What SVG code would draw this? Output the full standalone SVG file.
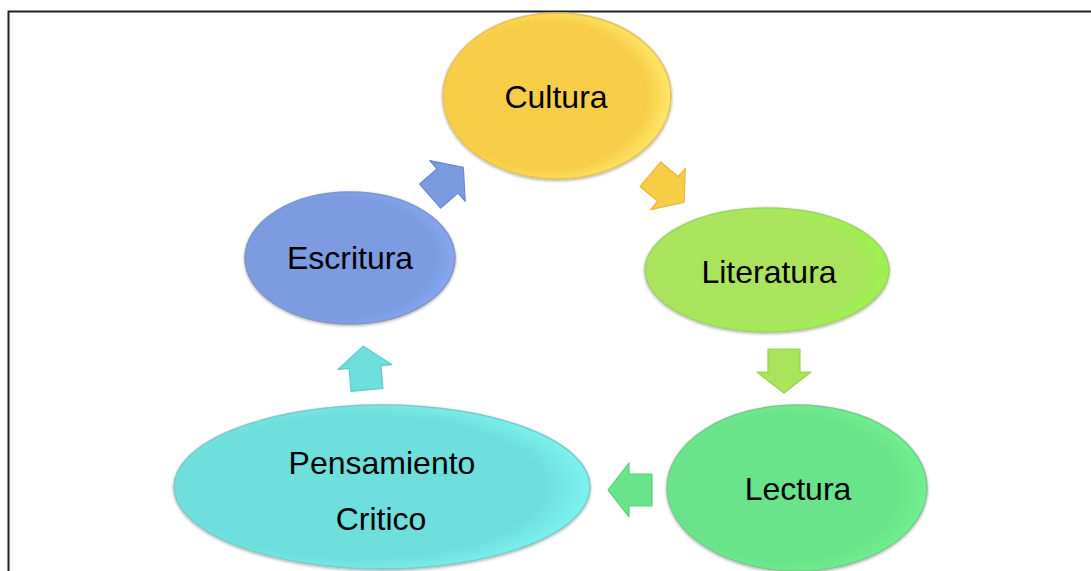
<svg xmlns="http://www.w3.org/2000/svg" width="1091" height="571" viewBox="0 0 1091 571">
<style>
.lbl{font-family:"Liberation Sans",Arial,sans-serif;font-size:32px;fill:#000;text-anchor:middle}
.node ellipse{stroke-width:1.5}
</style>
<defs>
<filter id="sh" x="-10%" y="-10%" width="120%" height="120%">
<feGaussianBlur in="SourceAlpha" stdDeviation="1.5"/>
<feOffset dx="0" dy="1" result="b"/>
<feFlood flood-color="#000" flood-opacity="0.35"/>
<feComposite in2="b" operator="in"/>
<feMerge><feMergeNode/><feMergeNode in="SourceGraphic"/></feMerge>
</filter>
<radialGradient id="gY" cx="0.45" cy="0.5" r="0.55"><stop offset="0.8" stop-color="#F8CD46"/><stop offset="1" stop-color="#FFE86A"/></radialGradient>
<radialGradient id="gL" cx="0.45" cy="0.5" r="0.55"><stop offset="0.8" stop-color="#A9E45C"/><stop offset="1" stop-color="#9DF250"/></radialGradient>
<radialGradient id="gG" cx="0.45" cy="0.5" r="0.55"><stop offset="0.8" stop-color="#6AE48A"/><stop offset="1" stop-color="#72F08F"/></radialGradient>
<radialGradient id="gC" cx="0.45" cy="0.5" r="0.55"><stop offset="0.8" stop-color="#6EDFDC"/><stop offset="1" stop-color="#7CF2EE"/></radialGradient>
<radialGradient id="gB" cx="0.45" cy="0.5" r="0.55"><stop offset="0.8" stop-color="#7B9BE0"/><stop offset="1" stop-color="#86A6EE"/></radialGradient>
<path id="arr" d="M-23,-16 H0 V-27 L21,0 L0,27 V16 H-23 Z"/>
</defs>
<rect width="1091" height="571" fill="#fff"/>
<path d="M8.5,571 V11.5 H1091" fill="none" stroke="#222" stroke-width="2"/>

<g id="connectors" stroke-width="1.2" stroke-linejoin="round">
<use href="#arr" transform="translate(447.5,181) rotate(-41)" fill="#7B9BE0" stroke="#6A88CC"/>
<use href="#arr" transform="translate(668,189) rotate(40)" fill="#F8CD46" stroke="#E8B838"/>
<use href="#arr" transform="translate(784,372) rotate(90)" fill="#A9E45C" stroke="#96D24A"/>
<use href="#arr" transform="translate(629,490) rotate(180)" fill="#6AE48A" stroke="#58D078"/>
<use href="#arr" transform="translate(365,367) rotate(-95)" fill="#6EDFDC" stroke="#5CCBC8"/>
</g>

<g id="cultura" class="node">
<ellipse cx="557" cy="96" rx="114" ry="83" fill="url(#gY)" stroke="#E2C25A" filter="url(#sh)"/>
<text class="lbl" x="556" y="108">Cultura</text>
</g>
<g id="literatura" class="node">
<ellipse cx="767" cy="270" rx="122" ry="62" fill="url(#gL)" stroke="#A2CF6A" filter="url(#sh)"/>
<text class="lbl" x="769" y="283">Literatura</text>
</g>
<g id="lectura" class="node">
<ellipse cx="797" cy="488" rx="130" ry="83" fill="url(#gG)" stroke="#7CC892" filter="url(#sh)"/>
<text class="lbl" x="798" y="500">Lectura</text>
</g>
<g id="pensamiento" class="node">
<ellipse cx="382" cy="487" rx="208" ry="82" fill="url(#gC)" stroke="#7ACBC9" filter="url(#sh)"/>
<text class="lbl" x="382" y="474">Pensamiento</text>
<text class="lbl" x="381" y="530">Critico</text>
</g>
<g id="escritura" class="node">
<ellipse cx="350" cy="258" rx="105" ry="66" fill="url(#gB)" stroke="#7F95C8" filter="url(#sh)"/>
<text class="lbl" x="350" y="269">Escritura</text>
</g>
</svg>
